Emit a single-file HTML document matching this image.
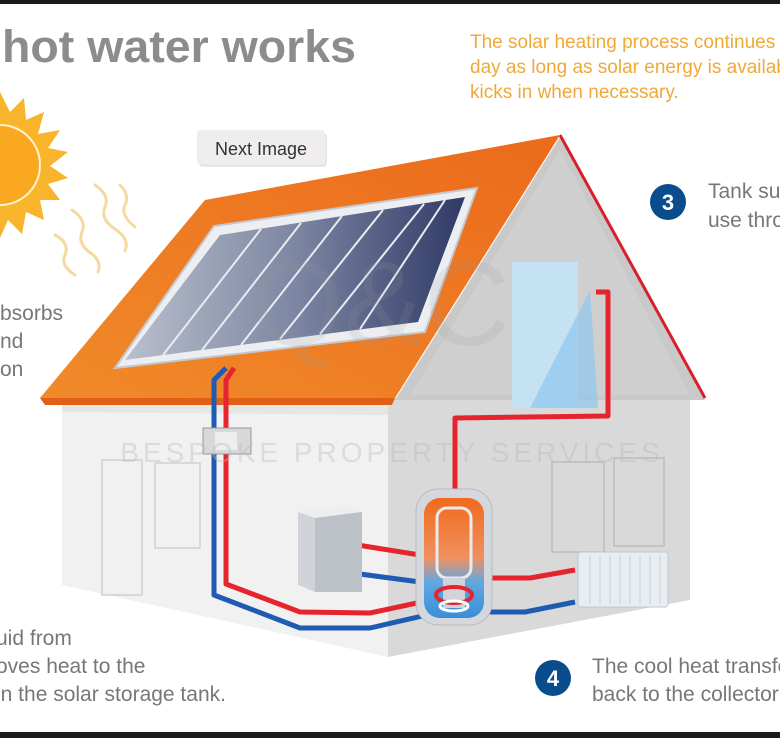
<!DOCTYPE html>
<html><head><meta charset="utf-8"><style>
html,body{margin:0;padding:0;background:#fff;}
svg{display:block;}
text{font-family:"Liberation Sans",sans-serif;}
</style></head><body>
<svg width="780" height="738" viewBox="0 0 780 738" xmlns="http://www.w3.org/2000/svg">
<defs>
<linearGradient id="pan" x1="0" y1="0" x2="1" y2="0">
<stop offset="0" stop-color="#b9bfcc"/><stop offset="0.5" stop-color="#7d86a3"/><stop offset="1" stop-color="#2f3a66"/>
</linearGradient>
<linearGradient id="roof" x1="0" y1="1" x2="1" y2="0">
<stop offset="0" stop-color="#f08a2a"/><stop offset="1" stop-color="#ec6a1c"/>
</linearGradient>
<linearGradient id="tank" x1="0" y1="0" x2="0" y2="1">
<stop offset="0" stop-color="#f06a1c"/><stop offset="0.5" stop-color="#f09060"/><stop offset="0.7" stop-color="#60a8e0"/><stop offset="1" stop-color="#3a8ed8"/>
</linearGradient>
</defs>
<rect width="780" height="738" fill="#fff"/>
<rect x="0" y="0" width="780" height="4" fill="#1a1a1a"/>
<rect x="0" y="732" width="780" height="6" fill="#1a1a1a"/>

<text x="2" y="62" font-size="45" font-weight="bold" fill="#8a8c8e" textLength="354" lengthAdjust="spacingAndGlyphs">hot water works</text>
<g font-size="19" fill="#f0a838">
<text x="470" y="48">The solar heating process continues</text>
<text x="470" y="73">day as long as solar energy is available</text>
<text x="470" y="98">kicks in when necessary.</text>
</g>

<g fill="#f8b42a">
<polygon points="0,92 10,112 24,98 26,120 44,112 38,134 60,130 48,148 68,152 50,166 68,178 48,184 60,200 40,200 44,220 26,212 22,234 8,220 0,238"/>
</g>
<circle cx="0" cy="165" r="44" fill="#fab52c"/>
<circle cx="0" cy="165" r="40" fill="#f9a820" stroke="#fff3d0" stroke-width="2"/>
<g fill="none" stroke="#f5d9a0" stroke-width="3" stroke-linecap="round">
<path d="M95,185 q15,10 10,22 q-5,12 10,22 q15,10 10,22"/>
<path d="M72,210 q15,10 10,22 q-5,12 10,22 q10,8 6,18"/>
<path d="M55,235 q15,8 10,20 q-5,10 10,20"/>
<path d="M120,185 q10,10 5,20 q-5,10 10,22"/>
</g>

<rect x="199" y="133" width="128" height="34" rx="4" fill="#d8d6d6" opacity="0.6"/>
<rect x="197" y="130" width="128" height="34" rx="4" fill="#efeded"/>
<text x="261" y="155" font-size="18" text-anchor="middle" fill="#333">Next Image</text>

<polygon points="62,398 388,398 388,657 62,585" fill="#f1f1f1"/>
<polygon points="388,398 690,398 690,600 388,657" fill="#d9d9d9"/>
<polygon points="62,398 388,398 388,415 62,412" fill="#e6e6e6"/>
<g fill="none" stroke="#d0d0d0" stroke-width="1.5">
<rect x="102" y="460" width="40" height="135"/>
<rect x="155" y="463" width="45" height="85"/>
<rect x="552" y="462" width="52" height="90" stroke="#bcbcbc"/>
<rect x="614" y="458" width="50" height="88" stroke="#bcbcbc"/>
</g>
<polygon points="560,137 395,400 705,400" fill="#c9c9c9"/>
<polygon points="560,150 410,395 690,395" fill="#cfcfcf"/>
<rect x="512" y="262" width="66" height="146" fill="#c4e2f4"/>
<polygon points="530,408 590,290 598,408" fill="#8ec8ee" opacity="0.7"/>
<line x1="560" y1="135" x2="705" y2="398" stroke="#d8202a" stroke-width="3"/>
<polygon points="205,200 560,135 395,398 40,398" fill="url(#roof)"/>
<polygon points="40,398 395,398 392,405 45,405" fill="#e06018"/>

<polygon points="115,368 214,226 477,188 425,332" fill="#eceef2" stroke="#c4c8d0" stroke-width="2"/>
<polygon points="125,360 220,235 465,197 418,322" fill="url(#pan)"/>
<g stroke="#e8ecf2" stroke-width="2">
<line x1="163" y1="355" x2="261" y2="229"/>
<line x1="202" y1="350" x2="301" y2="223"/>
<line x1="241" y1="345" x2="342" y2="216"/>
<line x1="280" y1="339" x2="383" y2="210"/>
<line x1="320" y1="334" x2="424" y2="204"/>
<line x1="360" y1="329" x2="445" y2="200"/>
</g>

<g fill="none" stroke-width="5" stroke-linejoin="round">
<path d="M226,368 L214,380 L214,595 L300,628 L370,628 L440,612" stroke="#1f5bb0"/>
<path d="M234,368 L226,380 L226,584 L300,612 L370,613 L440,598" stroke="#e5242e"/>
<path d="M596,292 L608,292 L608,416 L455,418 L455,510" stroke="#e5242e"/>
<path d="M345,543 L420,555" stroke="#e5242e"/>
<path d="M345,572 L420,582" stroke="#1f5bb0"/>
<path d="M490,578 L530,578 L575,570" stroke="#e5242e"/>
<path d="M490,612 L525,612 L575,602" stroke="#1f5bb0"/>
</g>
<rect x="203" y="428" width="48" height="26" fill="#d8d8d8" stroke="#999" stroke-width="1"/>
<rect x="215" y="432" width="22" height="18" fill="#eee"/>
<polygon points="298,512 345,506 362,512 362,592 315,592 298,585" fill="#d0d4d8"/>
<polygon points="298,512 345,506 362,512 315,518" fill="#eceef0"/>
<polygon points="315,518 362,512 362,592 315,592" fill="#bcc1c7"/>
<rect x="416" y="489" width="76" height="136" rx="22" fill="#d4d8dc" stroke="#b8bcc0"/>
<rect x="424" y="498" width="60" height="120" rx="16" fill="url(#tank)"/>
<rect x="437" y="508" width="34" height="70" rx="10" fill="none" stroke="#e8eaee" stroke-width="3"/>
<rect x="443" y="578" width="22" height="30" fill="#d0d3d8"/>
<ellipse cx="454" cy="595" rx="18" ry="8" fill="none" stroke="#e5242e" stroke-width="4"/>
<ellipse cx="454" cy="606" rx="14" ry="5" fill="none" stroke="#fff" stroke-width="3"/>
<rect x="578" y="552" width="90" height="55" rx="3" fill="#e8edf2" stroke="#c0c8d0"/>
<g stroke="#c6ced6" stroke-width="1">
<line x1="590" y1="555" x2="590" y2="604"/><line x1="600" y1="555" x2="600" y2="604"/><line x1="610" y1="555" x2="610" y2="604"/><line x1="620" y1="555" x2="620" y2="604"/><line x1="630" y1="555" x2="630" y2="604"/><line x1="640" y1="555" x2="640" y2="604"/><line x1="650" y1="555" x2="650" y2="604"/><line x1="660" y1="555" x2="660" y2="604"/>
</g>

<text x="392" y="462" font-size="28" fill="#bbb" opacity="0.4" text-anchor="middle" letter-spacing="4">BESPOKE PROPERTY SERVICES</text>
<text x="380" y="345" font-size="120" font-family="Liberation Serif" fill="#999" opacity="0.15" text-anchor="middle">Q&amp;C</text>

<circle cx="668" cy="202" r="18" fill="#0b4c8c"/>
<text x="668" y="210" font-size="22" font-weight="bold" fill="#fff" text-anchor="middle">3</text>
<circle cx="553" cy="678" r="18" fill="#0b4c8c"/>
<text x="553" y="686" font-size="22" font-weight="bold" fill="#fff" text-anchor="middle">4</text>

<g font-size="21" fill="#777">
<text x="708" y="198">Tank supplies</text>
<text x="708" y="227">use through</text>
<text x="592" y="673">The cool heat transfer</text>
<text x="592" y="701">back to the collector</text>
<text x="0" y="320">bsorbs</text>
<text x="0" y="348">nd</text>
<text x="0" y="376">on</text>
<text x="-4" y="645">uid from</text>
<text x="-4" y="673">oves heat to the</text>
<text x="-4" y="701">in the solar storage tank.</text>
</g>
</svg>
</body></html>
